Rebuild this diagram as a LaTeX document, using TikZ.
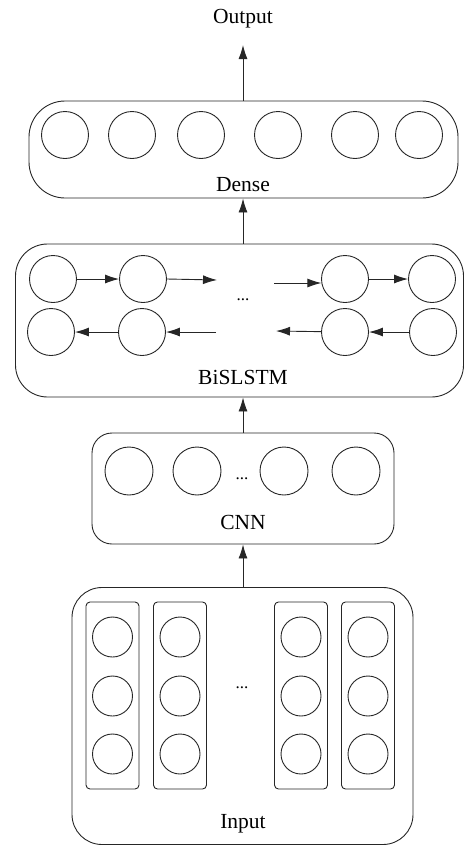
\documentclass[tikz,border=0pt]{standalone}
\usepackage{fontspec}
\setmainfont{Liberation Serif}
\usetikzlibrary{arrows.meta}
\begin{document}
\begin{tikzpicture}[x=1pt,y=-1pt,
  line width=0.9pt, draw=black!85,
  every node/.style={font=\fontsize{21.5}{25}\selectfont},
  layer/.style={draw, rounded corners=#1, inner sep=0pt},
  unit/.style={draw, circle, minimum size=#1, inner sep=0pt},
  slot/.style={draw, rounded corners=4pt, inner sep=0pt, minimum width=53pt, minimum height=187pt},
  arr/.style={-{Latex[length=14pt,width=9pt]}},
  dots/.style={inner sep=0pt, font=\fontsize{17}{19}\selectfont}]
\useasboundingbox (0,0) rectangle (464,846);

% ---------- layer boxes ----------
\node[layer=36pt, minimum width=429pt, minimum height=97pt] (dense) at (243.5,149.5) {};
\node[layer=32pt, minimum width=448pt, minimum height=153pt] (bilstm) at (239.5,320.5) {};
\node[layer=20pt, minimum width=302pt, minimum height=111pt] (cnn) at (243,488.5) {};
\node[layer=30pt, minimum width=341pt, minimum height=257pt] (input) at (242.5,716) {};

% ---------- labels ----------
\node (output) at (243,19) {Output};
\node (densel) at (243,185) {Dense};
\node (bilstml) at (243,377) {BiSLSTM};
\node (cnnl) at (243,522) {CNN};
\node (inputl) at (243,824) {Input};

% ---------- dense units ----------
\foreach \i/\x in {1/65,2/132,3/201,4/278,5/355,6/419}
  \node[unit=47pt] (d\i) at (\x,135) {};

% ---------- BiSLSTM units ----------
\foreach \i/\x in {1/53,2/143,3/345,4/432}
  \node[unit=47pt] (t\i) at (\x,279) {};
\foreach \i/\x in {1/51,2/142,3/345,4/433}
  \node[unit=47pt] (b\i) at (\x,332) {};
\node[dots] (bdots) at (243,300) {...};
\coordinate (ta) at (217,280);
\coordinate (tb) at (274,283);
\coordinate (ba) at (216,332);
\coordinate (bb) at (276,331);
\draw[arr] (t1) -- (t2);
\draw[arr] (t2.east) -- (ta);
\draw[arr] (tb) -- ([xshift=0.3pt]tb -| t3.west);
\draw[arr] (t3) -- (t4);
\draw[arr] (b2) -- (b1);
\draw[arr] (ba) -- (b2);
\draw[arr] (b3) -- (bb);
\draw[arr] (b4) -- (b3);

% ---------- CNN units ----------
\foreach \i/\x in {1/129,2/197,3/284,4/356}
  \node[unit=48pt] (c\i) at (\x,471) {};
\node[dots] (cdots) at (242,479) {...};

% ---------- input columns ----------
\foreach \i/\x in {1/112.5,2/180,3/301,4/368} {
  \node[slot] (s\i) at (\x,695.5) {};
  \foreach \j/\y in {1/637,2/696,3/754}
    \node[unit=40pt] (s\i u\j) at (\x,\y) {};
}
\node[dots] (idots) at (242,688) {...};

% ---------- flow between layers ----------
\coordinate (outtip) at (243,45);
\draw[arr] (dense.north -| outtip) -- (outtip);
\draw[arr] (bilstm.north -| outtip) -- (dense.south -| outtip);
\draw[arr] (cnn.north) -- (cnn.north |- bilstm.south);
\draw[arr] (input.north -| cnn.north) -- (cnn.south);
\end{tikzpicture}
\end{document}
